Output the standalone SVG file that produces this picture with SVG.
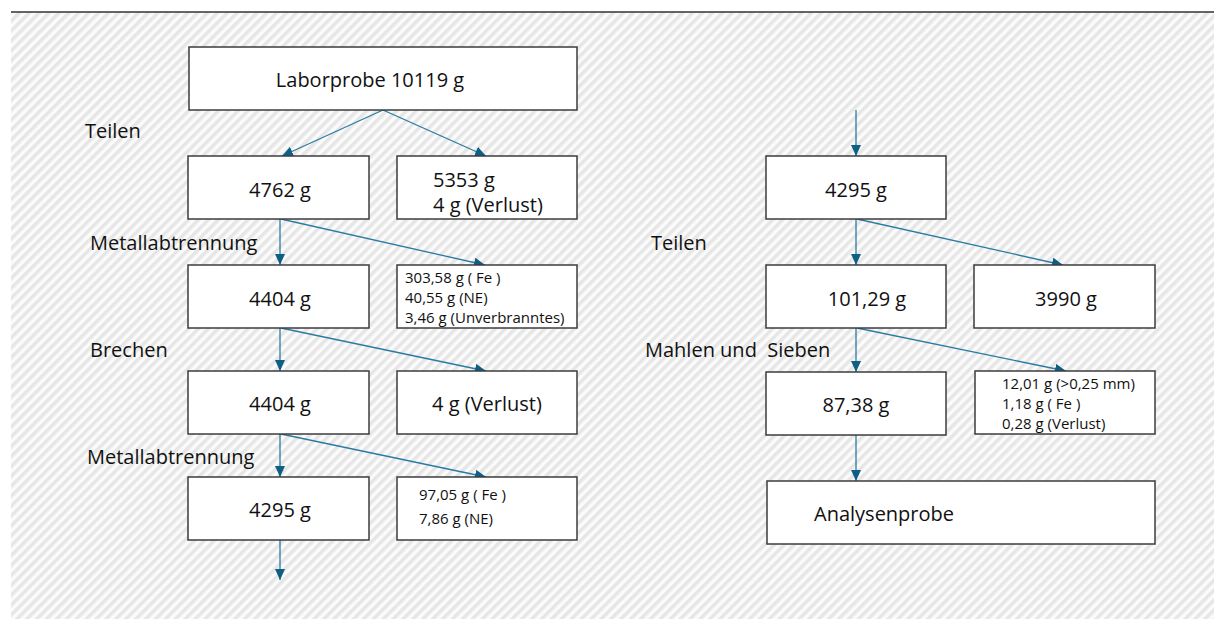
<svg xmlns="http://www.w3.org/2000/svg" width="1214" height="619" viewBox="0 0 1214 619">
<style>
.box{fill:#fff;stroke:#3c3c3c;stroke-width:1.5}
.t{font-family:"Open Sans","Liberation Sans",sans-serif;font-size:20px;fill:#111}
.s{font-family:"Open Sans","Liberation Sans",sans-serif;font-size:15px;fill:#111}
.c{stroke:#2a7ba3;stroke-width:1.3;fill:none;marker-end:url(#ah)}
</style>
<defs>
<pattern id="hatch" width="7" height="7" patternUnits="userSpaceOnUse" patternTransform="rotate(45)">
<rect width="7" height="7" fill="#fbfbfb"/>
<rect width="3.5" height="7" fill="#e6e6e6"/>
</pattern>
<marker id="ah" markerWidth="12" markerHeight="10" refX="11" refY="5" orient="auto" markerUnits="userSpaceOnUse">
<path d="M0,0 L11,5 L0,10 Z" fill="#0f5f85"/>
</marker>
</defs>
<rect x="11" y="12" width="1203" height="607" fill="url(#hatch)"/>
<line x1="11" y1="12" x2="1214" y2="12" stroke="#333" stroke-width="1.5"/>

<g id="connectors">
<line class="c" x1="383" y1="110" x2="282" y2="156"/>
<line class="c" x1="383" y1="110" x2="486" y2="156"/>
<line class="c" x1="280" y1="219" x2="280" y2="265"/>
<line class="c" x1="281" y1="219" x2="485" y2="265"/>
<line class="c" x1="280" y1="328" x2="280" y2="371"/>
<line class="c" x1="281" y1="328" x2="486" y2="371"/>
<line class="c" x1="280" y1="434" x2="280" y2="477"/>
<line class="c" x1="281" y1="434" x2="486" y2="477"/>
<line class="c" x1="280" y1="540" x2="280" y2="580"/>
<line class="c" x1="856" y1="110" x2="856" y2="156"/>
<line class="c" x1="856" y1="219" x2="856" y2="265"/>
<line class="c" x1="857" y1="219" x2="1063" y2="265"/>
<line class="c" x1="856" y1="328" x2="856" y2="372"/>
<line class="c" x1="857" y1="328" x2="1066" y2="371"/>
<line class="c" x1="856" y1="435" x2="856" y2="481"/>
</g>

<g id="labels">
<text class="t" x="85" y="138">Teilen</text>
<text class="t" x="90" y="250">Metallabtrennung</text>
<text class="t" x="90" y="357">Brechen</text>
<text class="t" x="87" y="464">Metallabtrennung</text>
<text class="t" x="651" y="250">Teilen</text>
<text class="t" x="645" y="357" xml:space="preserve">Mahlen und  Sieben</text>
</g>

<g id="n_labor"><rect class="box" x="189" y="47" width="388" height="63"/><text class="t" x="370" y="87" text-anchor="middle">Laborprobe 10119 g</text></g>
<g id="n_4762"><rect class="box" x="188" y="156" width="181" height="63"/><text class="t" x="280" y="197" text-anchor="middle">4762 g</text></g>
<g id="n_5353"><rect class="box" x="397" y="156" width="180" height="63"/><text class="t" x="433" y="187">5353 g</text><text class="t" x="433" y="212">4 g (Verlust)</text></g>
<g id="n_4404a"><rect class="box" x="188" y="265" width="181" height="63"/><text class="t" x="280" y="306" text-anchor="middle">4404 g</text></g>
<g id="n_fe1"><rect class="box" x="397" y="265" width="180" height="63"/><text class="s" x="405" y="283">303,58 g ( Fe )</text><text class="s" x="405" y="303">40,55 g (NE)</text><text class="s" x="405" y="323">3,46 g (Unverbranntes)</text></g>
<g id="n_4404b"><rect class="box" x="188" y="371" width="181" height="63"/><text class="t" x="280" y="411" text-anchor="middle">4404 g</text></g>
<g id="n_verl2"><rect class="box" x="397" y="371" width="180" height="63"/><text class="t" x="487" y="411" text-anchor="middle">4 g (Verlust)</text></g>
<g id="n_4295a"><rect class="box" x="188" y="477" width="181" height="63"/><text class="t" x="280" y="517" text-anchor="middle">4295 g</text></g>
<g id="n_fe2"><rect class="box" x="397" y="477" width="180" height="63"/><text class="s" x="419" y="500">97,05 g ( Fe )</text><text class="s" x="419" y="524">7,86 g (NE)</text></g>

<g id="n_4295b"><rect class="box" x="766" y="156" width="180" height="63"/><text class="t" x="856" y="197" text-anchor="middle">4295 g</text></g>
<g id="n_101"><rect class="box" x="766" y="265" width="180" height="63"/><text class="t" x="867" y="306" text-anchor="middle">101,29 g</text></g>
<g id="n_3990"><rect class="box" x="974" y="265" width="181" height="63"/><text class="t" x="1066" y="306" text-anchor="middle">3990 g</text></g>
<g id="n_87"><rect class="box" x="766" y="372" width="180" height="63"/><text class="t" x="856" y="412" text-anchor="middle">87,38 g</text></g>
<g id="n_sieb"><rect class="box" x="975" y="371" width="180" height="63"/><text class="s" x="1002" y="389">12,01 g (&gt;0,25 mm)</text><text class="s" x="1002" y="409">1,18 g ( Fe )</text><text class="s" x="1002" y="429">0,28 g (Verlust)</text></g>
<g id="n_analyse"><rect class="box" x="767" y="481" width="388" height="63"/><text class="t" x="814" y="521">Analysenprobe</text></g>
</svg>
